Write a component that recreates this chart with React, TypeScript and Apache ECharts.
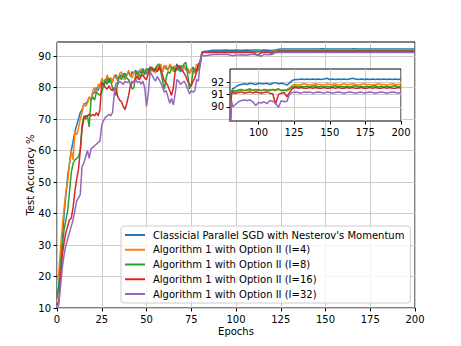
import React, { useEffect, useRef } from 'react';
import * as echarts from 'echarts';

const seriesNames = [
  "Classicial Parallel SGD with Nesterov's Momentum",
  'Algorithm 1 with Option II (I=4)',
  'Algorithm 1 with Option II (I=8)',
  'Algorithm 1 with Option II (I=16)',
  'Algorithm 1 with Option II (I=32)',
];
const colors = ['#1f77b4', '#ff7f0e', '#2ca02c', '#d62728', '#9467bd'];

// epochs 0..83, one value per epoch
const headBlue = [
  14, 17, 23, 32, 40, 46, 52, 56, 60, 63,
  66, 68, 70, 72, 73, 74.5, 75, 75.5, 77, 76,
  78, 78.5, 80, 79, 81, 82, 80.5, 82.5, 83, 81.5,
  83, 82, 83.5, 84, 82.5, 84, 83.5, 84.5, 83, 84,
  85, 83.5, 85, 84.5, 85.5, 84, 85.5, 84.5, 86, 85,
  84.5, 86, 85.5, 86.5, 85, 86, 87, 85.5, 86.5, 85,
  87, 86, 85.5, 87, 86, 86.5, 85, 87.5, 86, 85,
  86.5, 87, 85.5, 86, 84.5, 85.5, 86.5, 85, 86, 85.5,
  87, 91.2, 91.5, 91.5,
];
const headOrange = [
  19, 21, 29, 36, 42, 47, 50, 56, 60, 57,
  66, 65, 67, 70, 72, 75, 74, 75, 77, 76,
  79, 80, 78, 81, 80, 83, 82, 81, 84, 82.5,
  83, 81.5, 84, 83, 82, 84.5, 85, 83, 82.5, 84,
  85.5, 84, 83, 85, 84.5, 82.5, 85, 86, 84.5, 85,
  86, 84, 86.5, 85.5, 86, 84.5, 87, 86, 87.5, 85,
  86.5, 87, 85.5, 87.5, 86.5, 85, 87, 86, 85.5, 86.5,
  85, 87, 86, 85.5, 84.5, 86, 85, 84.5, 87.5, 86,
  88, 91.3, 91.1, 91.2,
];
const headGreen = [
  13, 17, 24, 30, 35, 38, 41, 47, 53, 56,
  57, 57.5, 58, 60, 68, 71, 70, 71, 67.5, 76,
  77, 76, 78.5, 78, 77.5, 78.5, 80.5, 82.5, 81, 83,
  82, 80, 79, 77.5, 82, 83.5, 82.5, 84, 84.5, 83,
  82.5, 81, 79.5, 80, 84.5, 85, 83.5, 84, 85.5, 84,
  86, 85.5, 84.5, 86.5, 85, 86, 87, 87.5, 85, 82,
  79.5, 83, 85, 84.5, 86, 86.5, 85, 86, 85.5, 87,
  86.5, 87.5, 88, 84, 79.5, 81, 85, 86, 85, 87,
  88.5, 91.2, 91.3, 91.3,
];
const headRed = [
  11, 12, 20, 27, 31, 34, 36, 38, 38.5, 42,
  47, 51, 54, 60, 67, 70, 71, 71, 71.5, 71,
  71.5, 71, 72, 71, 73, 81.5, 81, 80, 79.5, 80.5,
  79.5, 79, 80, 79.5, 77, 76, 75.5, 74, 73, 75,
  77.5, 80.5, 81.5, 82, 83, 83.5, 82.5, 83.5, 84, 83,
  82.5, 84.5, 86.5, 86, 85.5, 86, 85, 86.5, 85.5, 84,
  82, 81.5, 80.5, 79, 77.5, 80, 85, 86.5, 87, 86,
  85.5, 84.5, 83.5, 82, 81, 80.5, 82, 83, 85, 87.5,
  88, 91, 91.2, 91.1,
];
const headPurple = [
  10, 11, 17, 23, 27, 30, 32, 34, 36, 38,
  41, 44, 45, 46, 55, 56, 58, 60, 57.5, 60.5,
  61, 61.5, 62, 62.6, 63, 68, 69.5, 70.5, 71, 71.5,
  71, 72, 78, 81.5, 81, 82, 81.5, 81, 82, 81.5,
  82, 81, 82, 81.5, 82.5, 81.5, 82, 81, 82, 80,
  74, 78, 85, 84, 83, 82, 83.5, 82.5, 81.5, 80,
  78.5, 79, 77, 75, 76.5, 74.5, 78, 82.5, 82, 81,
  81.5, 82, 81, 79.5, 78, 79, 78.5, 79, 82.5, 82,
  88, 90.5, 90, 90.1,
];

// epochs 84..200, every 2 epochs
const tailBlue = [
  91.6, 91.75, 91.8, 91.85, 91.8, 91.9, 91.85, 91.8, 91.9, 91.85,
  91.85, 91.9, 91.8, 91.9, 91.95, 91.85, 91.9, 91.85, 91.75, 91.95,
  92.15, 92.2, 92.2, 92.25, 92.2, 92.25, 92.2, 92.25, 92.2, 92.25,
  92.2, 92.25, 92.3, 92.2, 92.25, 92.2, 92.25, 92.2, 92.25, 92.2,
  92.25, 92.3, 92.25, 92.2, 92.25, 92.2, 92.25, 92.2, 92.25, 92.2,
  92.25, 92.2, 92.25, 92.2, 92.25, 92.2, 92.25, 92.2, 92.25,
];
const tailOrange = [
  91.2, 91.3, 91.35, 91.3, 91.4, 91.3, 91.35, 91.25, 91.4, 91.3,
  91.35, 91.3, 91.4, 91.35, 91.3, 91.4, 91.35, 91.3, 91.4, 91.55,
  91.75, 91.8, 91.75, 91.8, 91.85, 91.8, 91.75, 91.8, 91.85, 91.8,
  91.8, 91.75, 91.85, 91.8, 91.8, 91.85, 91.75, 91.8, 91.85, 91.8,
  91.8, 91.85, 91.8, 91.75, 91.8, 91.85, 91.8, 91.8, 91.75, 91.8,
  91.85, 91.8, 91.8, 91.75, 91.8, 91.85, 91.8, 91.8, 91.8,
];
const tailGreen = [
  91.3, 91.35, 91.4, 91.3, 91.35, 91.45, 91.3, 91.4, 91.35, 91.3,
  91.4, 91.35, 91.3, 91.4, 91.35, 91.45, 91.3, 91.35, 91.3, 91.45,
  91.6, 91.65, 91.6, 91.65, 91.6, 91.65, 91.6, 91.65, 91.7, 91.6,
  91.65, 91.6, 91.65, 91.6, 91.65, 91.7, 91.6, 91.65, 91.6, 91.65,
  91.6, 91.65, 91.7, 91.6, 91.65, 91.6, 91.65, 91.6, 91.65, 91.7,
  91.6, 91.65, 91.6, 91.65, 91.6, 91.65, 91.7, 91.6, 91.65,
];
const tailRed = [
  91.1, 91.15, 91.2, 91.1, 91.15, 91.2, 91.1, 91.2, 91.15, 91.1,
  91.15, 91.2, 91.1, 91.05, 90.2, 91.0, 91.1, 91.15, 90.8, 91.2,
  91.5, 91.55, 91.5, 91.55, 91.5, 91.5, 91.55, 91.5, 91.55, 91.5,
  91.5, 91.55, 91.5, 91.5, 91.55, 91.5, 91.55, 91.5, 91.5, 91.55,
  91.5, 91.55, 91.5, 91.5, 91.55, 91.5, 91.5, 91.55, 91.5, 91.55,
  91.5, 91.5, 91.55, 91.5, 91.55, 91.5, 91.5, 91.55, 91.5,
];
const tailPurple = [
  90.2, 90.4, 90.5, 90.55, 90.5, 90.55, 90.4, 90.1, 90.35, 90.3,
  90.4, 90.25, 90.5, 90.45, 90.3, 89.95, 90.5, 90.4, 90.45, 91.1,
  91.15, 91.2, 91.15, 91.1, 91.2, 91.15, 91.2, 91.1, 91.15, 91.2,
  91.15, 91.1, 91.2, 91.15, 91.1, 91.15, 91.2, 91.15, 91.1, 91.15,
  91.2, 91.15, 91.1, 91.15, 91.2, 91.1, 91.15, 91.2, 91.15, 91.1,
  91.15, 91.2, 91.15, 91.1, 91.15, 91.2, 91.15, 91.1, 91.15,
];

const heads = [headBlue, headOrange, headGreen, headRed, headPurple];
const tails = [tailBlue, tailOrange, tailGreen, tailRed, tailPurple];

const xTicks = [0, 25, 50, 75, 100, 125, 150, 175, 200];
const yTicks = [10, 20, 30, 40, 50, 60, 70, 80, 90];
const insetXTicks = [100, 125, 150, 175, 200];
const insetYTicks = [90, 91, 92];

const FONT = 'DejaVu Sans';

function toPoints(head: number[], tail: number[]) {
  const pts: number[][] = head.map((v, i) => [i, v]);
  tail.forEach((v, i) => pts.push([84 + 2 * i, v]));
  return pts;
}

export default function App() {
  const ref = useRef<HTMLDivElement>(null);
  useEffect(() => {
    if (!ref.current) return;
    const chart = echarts.init(ref.current, undefined, { renderer: 'svg' });
    const series: any[] = [];
    const pointsAll = heads.map((h, k) => toPoints(h, tails[k]));
    pointsAll.forEach((pts, k) => {
      series.push({
        type: 'line',
        name: seriesNames[k],
        xAxisIndex: 0,
        yAxisIndex: 0,
        data: pts,
        symbol: 'none',
        showSymbol: false,
        lineStyle: { width: 1.5, color: colors[k] },
        itemStyle: { color: colors[k] },
        z: 2,
      });
    });
    pointsAll.forEach((pts, k) => {
      series.push({
        type: 'line',
        name: seriesNames[k],
        xAxisIndex: 1,
        yAxisIndex: 1,
        data: pts.filter((p) => p[0] >= 78),
        symbol: 'none',
        showSymbol: false,
        clip: true,
        lineStyle: { width: 1.5, color: colors[k] },
        itemStyle: { color: colors[k] },
        z: 13,
      });
    });
    const axisText = { color: '#000', fontSize: 10, fontFamily: FONT };
    const option: any = {
      animation: false,
      textStyle: { fontFamily: FONT },
      grid: [
        {
          left: 57, top: 42, right: 46, bottom: 38,
          show: true, borderColor: '#000', borderWidth: 1, backgroundColor: 'transparent',
          z: 0,
        },
        {
          left: 230, top: 69, right: 60, bottom: 225,
          show: true, borderColor: '#000', borderWidth: 1, backgroundColor: '#fff',
          z: 10,
        },
      ],
      xAxis: [
        {
          type: 'value', gridIndex: 0, min: 0, max: 200, interval: 25,
          name: 'Epochs', nameLocation: 'middle', nameGap: 18, nameMoveOverlap: false,
          nameTextStyle: { ...axisText },
          axisLine: { show: false },
          axisTick: { show: true, inside: false, length: 3.5, lineStyle: { color: '#000' } },
          axisLabel: { ...axisText, margin: 6, customValues: xTicks },
          splitLine: { show: true, lineStyle: { color: '#cccccc', width: 1 } },
        },
        {
          type: 'value', gridIndex: 1, min: 80, max: 200,
          axisLine: { show: false },
          axisTick: { show: true, inside: false, length: 3.5, lineStyle: { color: '#000' }, customValues: insetXTicks },
          axisLabel: { ...axisText, margin: 6, customValues: insetXTicks },
          splitLine: { show: true, lineStyle: { color: '#cccccc', width: 1 } },
          z: 12,
        },
      ],
      yAxis: [
        {
          type: 'value', gridIndex: 0, min: 10, max: 94.45, interval: 10,
          name: 'Test Accuracy %', nameLocation: 'middle', nameGap: 22, nameMoveOverlap: false,
          nameTextStyle: { ...axisText },
          axisLine: { show: false },
          axisTick: { show: true, inside: false, length: 3.5, lineStyle: { color: '#000' }, customValues: yTicks },
          axisLabel: { ...axisText, margin: 6, customValues: yTicks },
          splitLine: { show: true, lineStyle: { color: '#cccccc', width: 1 } },
        },
        {
          type: 'value', gridIndex: 1, min: 88.85, max: 93.05,
          axisLine: { show: false },
          axisTick: { show: true, inside: false, length: 3.5, lineStyle: { color: '#000' }, customValues: insetYTicks },
          axisLabel: { ...axisText, margin: 6, customValues: insetYTicks },
          splitLine: { show: true, lineStyle: { color: '#cccccc', width: 1 } },
          z: 12,
        },
      ],
      legend: {
        show: true,
        orient: 'vertical',
        left: 121,
        top: 226,
        data: seriesNames,
        icon: 'rect',
        itemWidth: 20,
        itemHeight: 2,
        itemGap: 2.75,
        selectedMode: false,
        padding: [3, 6, 3, 4],
        backgroundColor: 'rgba(255,255,255,0.8)',
        borderColor: '#cccccc',
        borderWidth: 1,
        borderRadius: 3,
        textStyle: { color: '#000', fontSize: 10, fontFamily: FONT, lineHeight: 12, padding: [0, 0, 0, 3] },
        z: 20,
      },
      series,
    };
    chart.setOption(option);
    return () => chart.dispose();
  }, []);
  return (
    <div
      ref={ref}
      style={{ position: 'fixed', left: 0, top: 0, width: 461, height: 346, background: '#fff' }}
    />
  );
}
